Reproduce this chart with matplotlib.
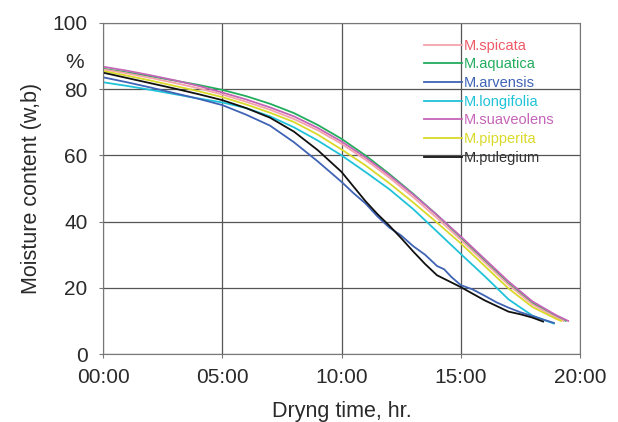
import numpy as np
import matplotlib.pyplot as plt
from matplotlib.ticker import FuncFormatter

plt.rcParams['font.family'] = ['Liberation Sans', 'DejaVu Sans']

# drying curves: time in hours, moisture content in % (wet basis)
names = ['M.spicata', 'M.aquatica', 'M.arvensis', 'M.longifolia',
         'M.suaveolens', 'M.pipperita', 'M.pulegium']

t_spicata = [0, 1, 2, 3, 4, 5, 6, 7, 8, 9, 10, 11, 12, 13, 14, 15, 16, 17,
             18, 19, 19.3]
m_spicata = [86.0, 84.8, 83.4, 81.9, 80.3, 78.4, 76.2, 73.8, 71.0, 67.6,
             63.5, 58.7, 53.3, 47.4, 41.1, 34.5, 27.7, 20.9, 15.0, 11.0, 10.0]

t_aquatica = [0, 1, 2, 3, 4, 5, 6, 7, 8, 9, 10, 11, 12, 13, 14, 15, 16, 17,
              18, 19, 19.4]
m_aquatica = [86.2, 85.1, 83.9, 82.6, 81.3, 79.8, 77.9, 75.6, 72.8, 69.2,
              65.0, 60.0, 54.4, 48.4, 42.0, 35.2, 28.2, 21.3, 15.4, 11.5, 10.0]

t_arvensis = [0, 1, 2, 3, 4, 5, 6, 7, 8, 9, 10, 10.5, 11, 11.5, 12, 12.5,
              13, 13.5, 14, 14.3, 14.6, 15, 15.5, 16, 16.5, 17, 17.5, 18,
              18.5, 18.9]
m_arvensis = [83.6, 82.1, 80.5, 78.8, 77.1, 75.2, 72.3, 69.0, 64.0, 58.2,
              52.0, 48.6, 45.5, 41.6, 38.2, 35.8, 32.6, 30.0, 26.6, 25.6,
              23.3, 20.8, 19.5, 17.6, 15.6, 14.0, 12.6, 11.5, 10.3, 9.4]

t_longifolia = [0, 1, 2, 3, 4, 5, 6, 7, 8, 9, 10, 11, 12, 13, 14, 15, 16,
                17, 18, 18.9]
m_longifolia = [82.1, 81.0, 79.8, 78.5, 77.2, 76.0, 74.3, 71.8, 68.5, 64.5,
                60.0, 55.0, 49.8, 43.8, 37.0, 30.2, 23.5, 16.5, 11.6, 9.2]

t_suaveolens = [0, 1, 2, 3, 4, 5, 6, 7, 8, 9, 10, 11, 12, 13, 14, 15, 16,
                17, 18, 19, 19.5]
m_suaveolens = [86.8, 85.6, 84.2, 82.7, 81.0, 79.0, 76.9, 74.5, 71.8, 68.3,
                64.2, 59.4, 54.0, 48.2, 42.0, 35.5, 28.7, 21.9, 15.9, 11.7,
                10.0]

t_pipperita = [0, 1, 2, 3, 4, 5, 6, 7, 8, 9, 10, 11, 12, 13, 14, 15, 16, 17,
               18, 19, 19.2]
m_pipperita = [85.5, 84.1, 82.6, 81.0, 79.4, 77.6, 75.4, 72.9, 70.1, 66.3,
               61.8, 57.0, 51.6, 45.8, 39.7, 33.4, 26.6, 19.8, 14.2, 10.6, 10.0]

t_pulegium = [0, 1, 2, 3, 4, 5, 6, 7, 8, 9, 10, 10.5, 11, 11.5, 12, 12.5,
              13, 13.5, 14, 14.5, 15, 15.5, 16, 16.5, 17, 17.5, 18, 18.45]
m_pulegium = [85.0, 83.4, 81.8, 80.2, 78.5, 76.7, 74.3, 71.4, 67.2, 61.6,
              55.0, 50.6, 46.2, 42.3, 38.8, 35.0, 31.0, 27.2, 23.8, 22.0,
              20.2, 18.2, 16.2, 14.5, 12.8, 12.0, 11.0, 9.8]

times = [t_spicata, t_aquatica, t_arvensis, t_longifolia,
         t_suaveolens, t_pipperita, t_pulegium]
moist = [m_spicata, m_aquatica, m_arvensis, m_longifolia,
         m_suaveolens, m_pipperita, m_pulegium]

line_colors = ['#f4a3aa', '#22ad5c', '#3f63b5', '#1fc3d9',
               '#c565b8', '#d9d92a', '#111111']
text_colors = ['#ee5a68', '#22ad5c', '#3f63b5', '#1fc3d9',
               '#c565b8', '#d9d92a', '#333333']

fig = plt.figure(figsize=(6.18, 4.22), dpi=100)
ax = fig.add_axes([0.1667, 0.1611, 0.772, 0.7844])

# draw pale curves first, black on top
order = [1, 4, 0, 5, 3, 2, 6]
handles = [None] * len(names)
for i in order:
    ln, = ax.plot(times[i], moist[i], color=line_colors[i], lw=1.3,
                  label=names[i])
    handles[i] = ln

ax.set_xlim(0, 20)
ax.set_ylim(0, 100)
ax.set_xticks([0, 5, 10, 15, 20])
ax.set_yticks([0, 20, 40, 60, 80, 100])
ax.xaxis.set_major_formatter(FuncFormatter(lambda v, p: '%02d:00' % v))
ax.grid(True, color='#555555', lw=0.9)
for s in ax.spines.values():
    s.set_color('#777777')
ax.tick_params(labelsize=15, colors='#2a2a2a', length=3, color='#777777')
ax.tick_params(axis='y', pad=8)
ax.tick_params(axis='x', pad=7)
ax.set_xlabel('Dryng time, hr.', fontsize=15.5, color='#2a2a2a',
              labelpad=10)
ax.set_ylabel('Moisture content (w,b)', fontsize=15.5, color='#2a2a2a',
              labelpad=8)
ax.text(-0.04, 0.88, '%', transform=ax.transAxes, ha='right', va='center',
        fontsize=15, color='#2a2a2a')

leg = ax.legend(handles=handles, loc='upper left',
                bbox_to_anchor=(0.66, 0.97), frameon=False, fontsize=10.5,
                handlelength=2.6, handletextpad=0.15, labelspacing=0.32,
                borderaxespad=0)
for txt, c in zip(leg.get_texts(), text_colors):
    txt.set_color(c)

fig.savefig('out.png', dpi=100)
